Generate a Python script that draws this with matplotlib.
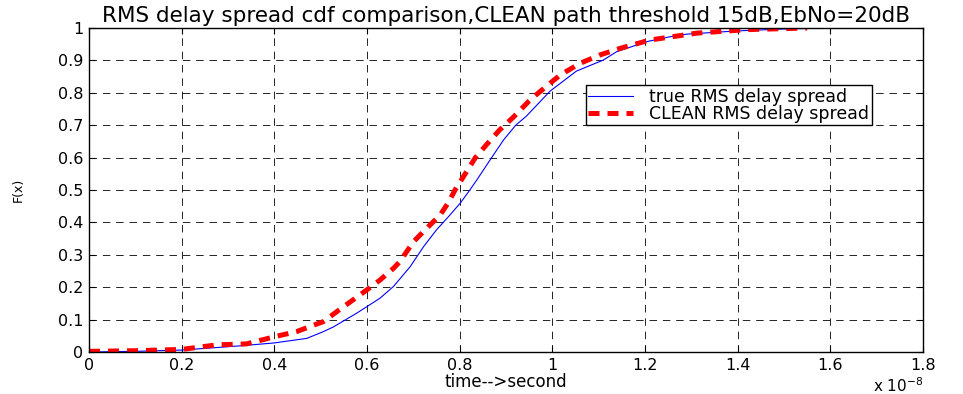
import numpy as np
import matplotlib
matplotlib.use('Agg')
import matplotlib.pyplot as plt
from matplotlib.ticker import FuncFormatter, MultipleLocator

# values, x in units of 1e-8 s
true_t = [0, 0.1, 0.2, 0.326, 0.4, 0.47, 0.506, 0.527, 0.578, 0.628, 0.657,
          0.693, 0.722, 0.75, 0.776, 0.801, 0.822, 0.837, 0.869, 0.895, 0.921,
          0.944, 0.995, 1.052, 1.11, 1.139, 1.204, 1.254, 1.29, 1.398, 1.5, 1.6]
true_F = [0, 0.002, 0.006, 0.019, 0.028, 0.042, 0.063, 0.077, 0.12, 0.166, 0.202,
          0.263, 0.325, 0.377, 0.418, 0.459, 0.5, 0.531, 0.6, 0.655, 0.7,
          0.728, 0.805, 0.867, 0.901, 0.927, 0.958, 0.973, 0.981, 0.991, 0.997, 1.0]

clean_t = [0, 0.1, 0.2, 0.276, 0.34, 0.4, 0.448, 0.506, 0.54, 0.599, 0.628,
           0.657, 0.671, 0.7, 0.729, 0.758, 0.776, 0.79, 0.834, 0.858, 0.886,
           0.916, 0.95, 0.966, 1.0, 1.017, 1.06, 1.103, 1.146, 1.211, 1.311,
           1.42, 1.55]
clean_F = [0.002, 0.004, 0.008, 0.022, 0.025, 0.047, 0.063, 0.094, 0.13, 0.191, 0.222,
           0.258, 0.279, 0.34, 0.382, 0.423, 0.462, 0.5, 0.6, 0.64, 0.685,
           0.725, 0.775, 0.795, 0.835, 0.855, 0.891, 0.917, 0.937, 0.963, 0.984,
           0.995, 1.0]

scale = 1e-8
plt.rcParams['font.family'] = 'DejaVu Sans'

fig = plt.figure(figsize=(9.63, 3.94), dpi=100)
ax = fig.add_axes([89 / 963, 42 / 394, 834 / 963, 324 / 394])

ax.plot(np.array(true_t) * scale, true_F, color='#0000ff', lw=0.8,
        label='true RMS delay spread')
ax.plot(np.array(clean_t) * scale, clean_F, color='#ff0000', lw=3.6,
        dashes=(2.2, 1.6), label='CLEAN RMS delay spread')

ax.set_xlim(0, 1.8e-8)
ax.set_ylim(0, 1)
ax.xaxis.set_major_locator(MultipleLocator(0.2e-8))
ax.yaxis.set_major_locator(MultipleLocator(0.1))
ax.xaxis.set_major_formatter(FuncFormatter(lambda v, p: f'{v / scale:g}'))
ax.yaxis.set_major_formatter(FuncFormatter(lambda v, p: f'{v:g}'))
ax.tick_params(direction='in', top=True, right=True, length=4, width=0.8,
               labelsize=11.5, pad=4)
ax.grid(True, color='k', lw=0.6, linestyle=(0, (9, 7)))
for s in ax.spines.values():
    s.set_linewidth(1.0)

ax.set_title('RMS delay spread cdf comparison,CLEAN path threshold 15dB,EbNo=20dB',
             fontsize=15.5, pad=4)
ax.set_xlabel('time-->second', fontsize=12, labelpad=0)
ax.set_ylabel('F(x)', fontsize=9)
ax.yaxis.set_label_coords(-0.077, 0.5)
ax.text(1.0, -0.105, r'x 10$^{-8}$', transform=ax.transAxes, ha='right', va='center',
        fontsize=11)

leg = ax.legend(loc='upper left', bbox_to_anchor=(0.5955, 0.824), fontsize=12.5,
                fancybox=False, framealpha=1, edgecolor='k', borderaxespad=0,
                handlelength=2.6, handletextpad=0.9, labelspacing=-0.05,
                borderpad=0.15)
leg.get_frame().set_linewidth(1.0)

fig.savefig('out.png', dpi=100)
